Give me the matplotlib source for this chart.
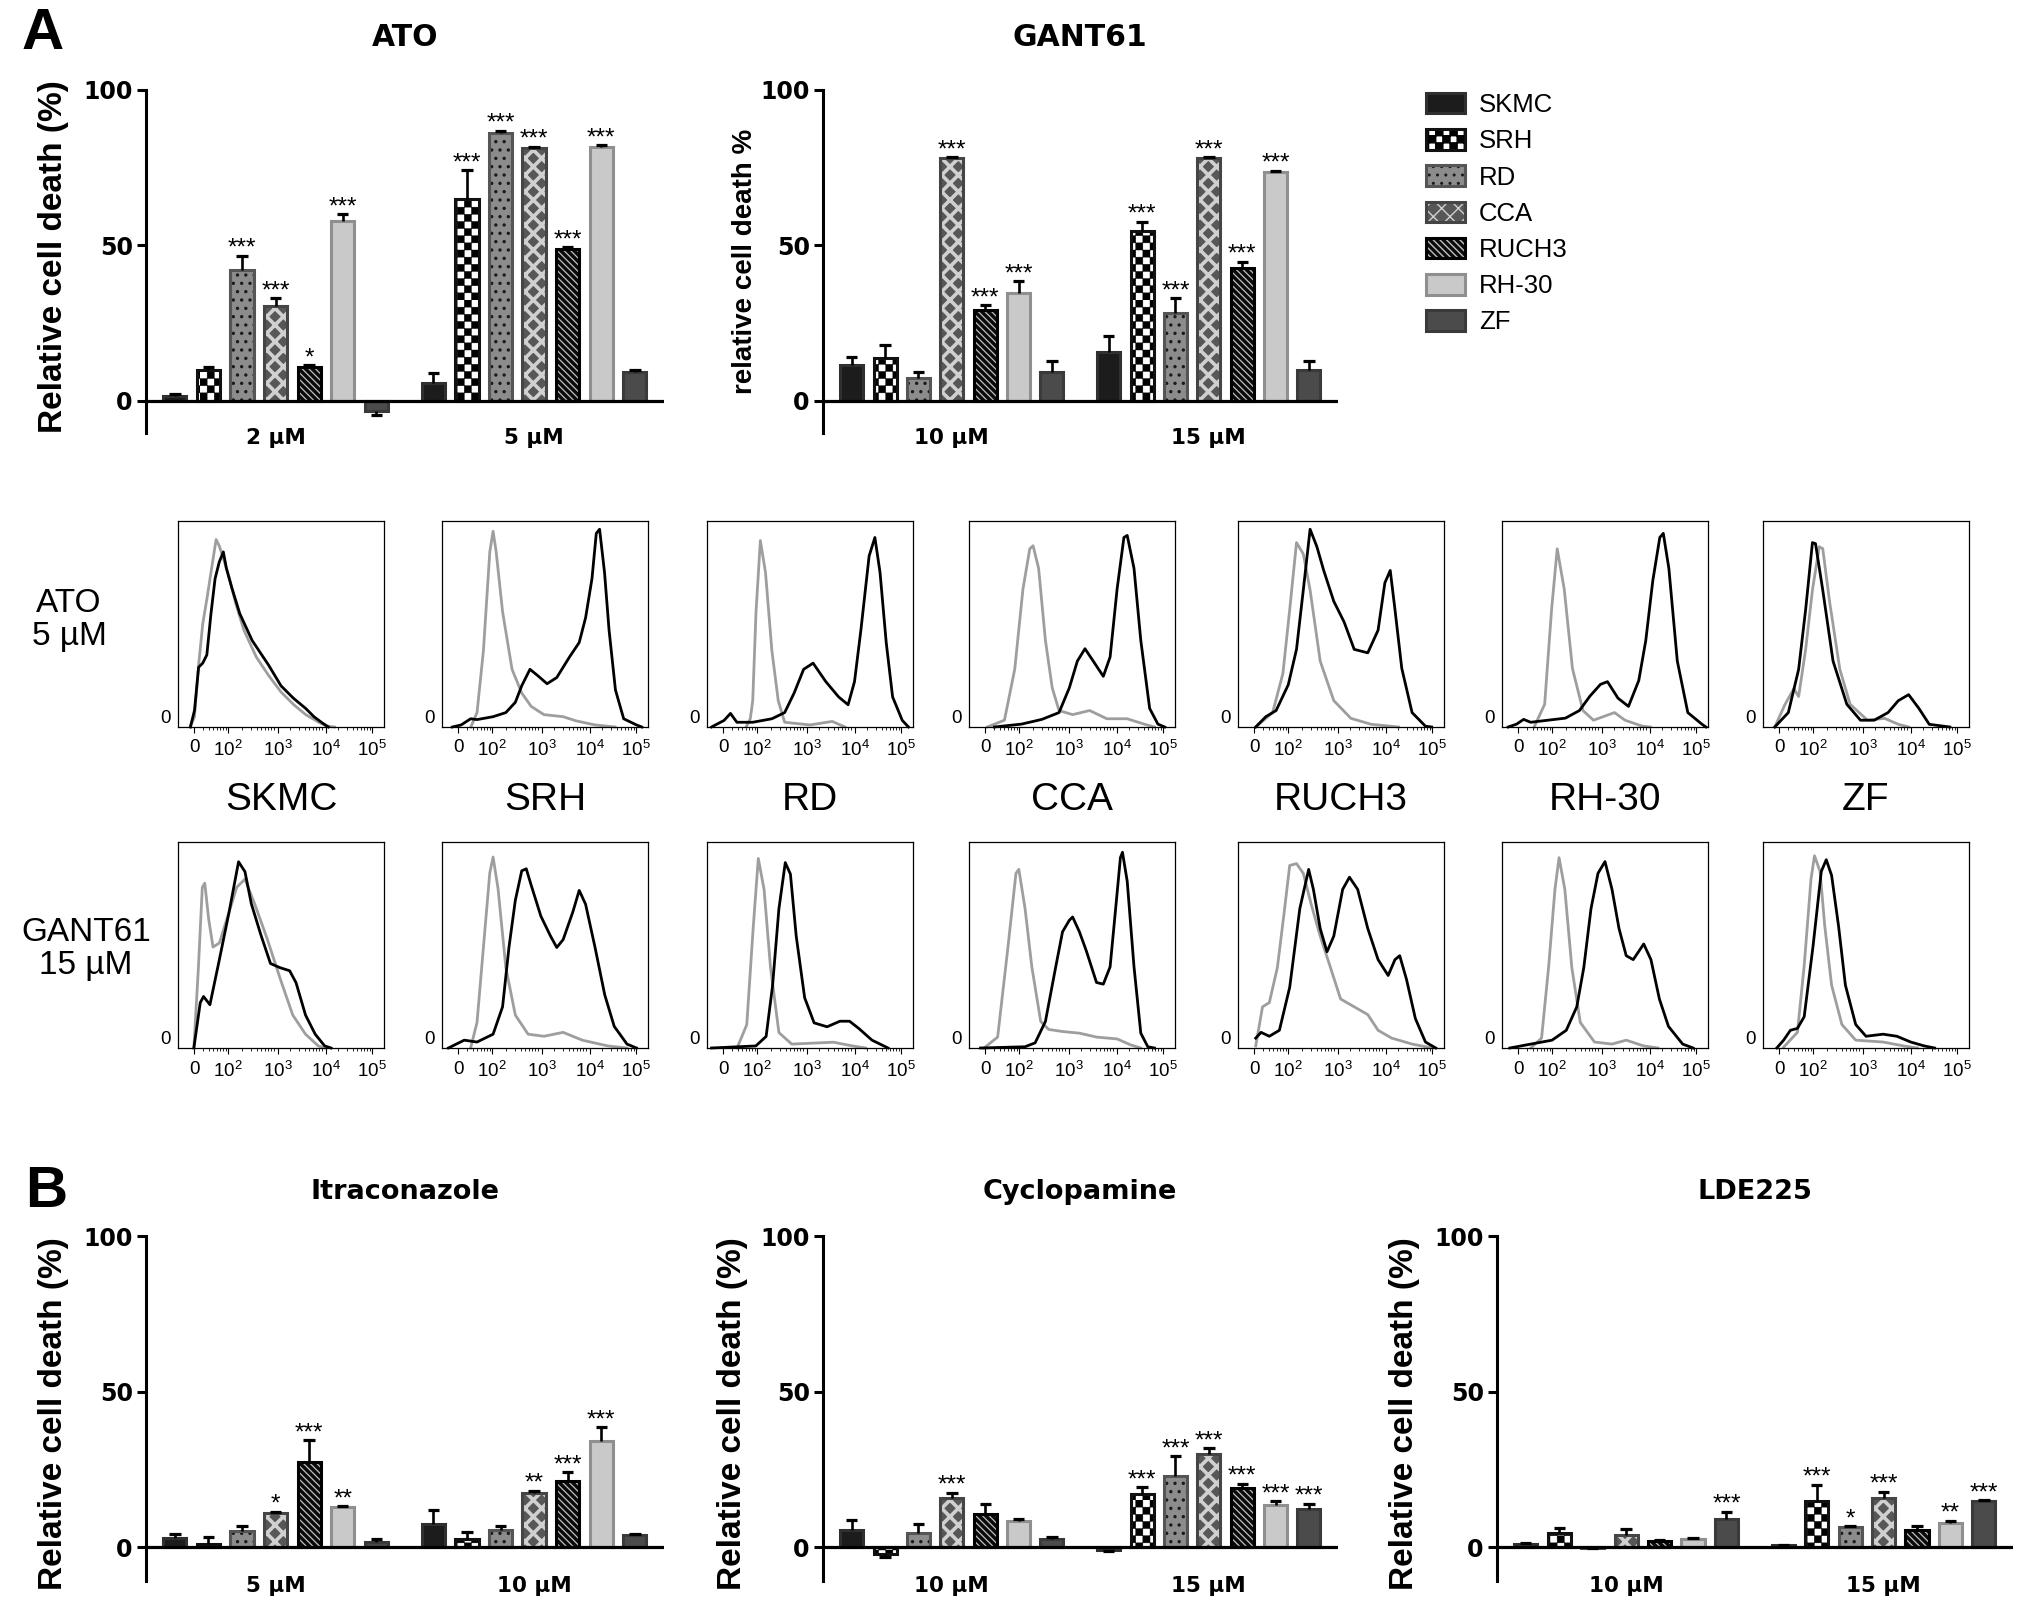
import numpy as np
import matplotlib
matplotlib.use('Agg')
import matplotlib.pyplot as plt
import matplotlib.hatch as mhatch
from matplotlib.path import Path
from matplotlib.patches import Patch
from matplotlib.legend_handler import HandlerTuple
from matplotlib import font_manager

# ---------------- data ----------------
cell_lines = ['SKMC', 'SRH', 'RD', 'CCA', 'RUCH3', 'RH-30', 'ZF']

ato_conc = ['2 µM', '5 µM']
ato_mean = [[1.5, 10.1, 42.2, 30.4, 11.0, 57.8, -3.3],
            [5.8, 64.8, 86.1, 81.4, 48.8, 81.7, 9.4]]
ato_sem = [[0.8, 0.9, 4.5, 2.6, 0.5, 2.2, 1.3],
           [3.3, 9.4, 0.8, 0.4, 0.7, 0.6, 0.4]]
ato_sig = [['', '', '***', '***', '*', '***', ''],
           ['', '***', '***', '***', '***', '***', '']]

gant_conc = ['10 µM', '15 µM']
gant_mean = [[11.5, 13.7, 7.3, 78.1, 29.1, 34.7, 9.2],
             [15.6, 54.5, 28.4, 78.1, 42.6, 73.7, 10.0]]
gant_sem = [[2.7, 4.3, 1.9, 0.3, 1.7, 3.8, 3.7],
            [5.2, 3.2, 4.7, 0.3, 2.2, 0.4, 2.9]]
gant_sig = [['', '', '', '***', '***', '***', ''],
            ['', '***', '***', '***', '***', '***', '']]

itra_conc = ['5 µM', '10 µM']
itra_mean = [[2.8, 1.1, 5.2, 11.1, 27.5, 12.9, 1.7],
             [7.5, 2.5, 5.4, 17.3, 21.4, 34.2, 3.8]]
itra_sem = [[1.5, 2.1, 1.5, 0.3, 6.9, 0.3, 0.8],
            [4.4, 2.4, 1.3, 0.8, 2.6, 4.3, 0.5]]
itra_sig = [['', '', '', '*', '***', '**', ''],
            ['', '', '', '**', '***', '***', '']]

cyclo_conc = ['10 µM', '15 µM']
cyclo_mean = [[5.4, -2.1, 4.5, 15.9, 10.7, 8.3, 2.7],
              [-0.9, 17.2, 22.9, 30.0, 19.1, 13.4, 12.2]]
cyclo_sem = [[3.2, 1.1, 3.0, 1.5, 3.0, 0.8, 0.5],
             [0.3, 2.1, 6.3, 1.7, 1.3, 1.4, 1.7]]
cyclo_sig = [['', '', '', '***', '', '', ''],
             ['', '***', '***', '***', '***', '***', '***']]

lde_conc = ['10 µM', '15 µM']
lde_mean = [[1.1, 4.6, -0.2, 3.8, 1.9, 2.7, 8.9],
            [0.6, 14.8, 6.5, 15.9, 5.5, 7.8, 14.8]]
lde_sem = [[0.3, 1.6, 0.1, 1.9, 0.3, 0.3, 2.4],
           [0.2, 5.2, 0.2, 1.9, 1.3, 0.6, 0.3]]
lde_sig = [['', '', '', '', '', '', '***'],
           ['', '***', '*', '***', '', '**', '***']]

# flow histograms: (channel % of axis, % of max)
ato_ctrl = {
    'SKMC': [(6, 0), (8, 5), (10, 30), (12, 50), (14, 62), (16, 75), (18.5, 91), (20, 88), (22, 82), (25, 72),
             (28, 60), (32, 47), (38, 34), (44, 25), (50, 17), (56, 11), (62, 6), (68, 2.5), (72, 0.5), (76, 0)],
    'SRH': [(14, 0), (17, 7), (20.1, 37), (23.2, 85), (24.8, 95), (26.3, 85), (29.4, 56), (34, 28), (38.7, 16.5),
            (43.3, 10), (49.5, 6), (58.8, 5), (65, 3), (74.3, 1), (84, 0)],
    'RD': [(19, 0), (21, 4), (22.2, 12.7), (23.8, 56), (25.9, 90.5), (28.4, 75), (31.5, 37), (34.6, 12.7),
           (37.7, 2.3), (50, 1), (60.8, 2.7), (67, 0)],
    'CCA': [(8.9, 0), (17.2, 3.3), (22.2, 28), (26.2, 67), (29.5, 86.5), (31.1, 88), (33.8, 77), (37.1, 42),
            (40.4, 19), (43.7, 8), (50.3, 6), (58.6, 8), (66.9, 4), (76.8, 4), (85, 1.4), (90, 0)],
    'RUCH3': [(8.6, 0), (16.8, 7), (21.8, 26), (25.1, 57), (28.4, 89.5), (31.7, 84), (35, 66.5), (39.9, 32),
              (46.5, 12.8), (54.8, 4.2), (64.7, 1.3), (77.9, 0)],
    'RH-30': [(15.6, 0), (20.7, 11), (24.1, 57.4), (26.8, 86.5), (30.2, 67), (34.2, 28.4), (39.3, 8), (44.4, 3.3),
              (54.6, 7), (59.7, 3.3), (68.1, 0.4), (72, 0)],
    'ZF': [(5.7, 0), (10.7, 11), (15, 18.6), (17.3, 14.8), (20.7, 37.7), (24, 66.5), (27.3, 87.5), (29, 86.6),
           (32.3, 61), (37.3, 28), (42.3, 11), (50.7, 3.3), (59, 4.2), (65.7, 1.3), (70.7, 0)],
}
ato_treated = {
    'SKMC': [(6, 0), (8, 8), (10, 29), (12, 31), (14, 35), (16, 55), (18, 72), (20, 80), (22, 85), (23.5, 77),
             (26, 68), (30, 55), (36, 42), (44, 30), (50, 20), (56, 14), (62, 9), (66, 5), (70, 2), (73, 0)],
    'SRH': [(5, 0), (9.3, 1), (13.9, 4), (17, 3.6), (24.8, 5), (31, 7), (35.6, 12), (38.7, 20), (42.7, 28),
            (46.4, 25), (51, 21), (55.7, 24), (61.9, 34), (66.6, 41), (69.7, 53), (72.8, 72), (74.9, 94),
            (76.5, 96), (78.9, 75), (81.1, 47), (84.2, 18), (88.2, 4), (94.4, 1), (97, 0)],
    'RD': [(2.2, 0), (8.3, 3.2), (11.4, 6.6), (14.5, 2.3), (22.2, 2.3), (31.5, 4), (37.7, 7), (42.3, 16.5),
           (46.9, 28), (51.5, 31), (57.7, 22), (63.9, 14.6), (68.5, 10.8), (71.6, 22), (74.7, 47), (78.7, 83),
           (81.5, 92), (84, 75), (87, 41), (90.1, 14.6), (94.8, 3.2), (97.8, 0)],
    'CCA': [(12.3, 0), (25.5, 1.4), (35.4, 3.7), (43.7, 7), (48.7, 19), (52.6, 32), (56.3, 38), (60.3, 32),
            (65.2, 24.6), (68.5, 34), (71.9, 67), (75.2, 92), (76.8, 93), (80.1, 77), (83.4, 42), (87.7, 9),
            (91.7, 1.4), (95, 0)],
    'RUCH3': [(8.6, 0), (13.5, 5), (18.5, 8), (24.4, 20.5), (28.4, 37.7), (31.7, 66.5), (35, 96), (38.3, 87.5),
              (41.6, 76), (46.5, 61), (51.5, 51), (56.4, 37.7), (63, 36), (68, 47), (71.3, 70), (73.9, 76),
              (76.2, 57), (79.5, 28.5), (84.5, 7), (91, 0.4), (94, 0)],
    'RH-30': [(3, 0), (7.1, 1.4), (10.5, 3.7), (13.9, 2.3), (30.8, 4.3), (37.6, 8), (42.7, 15), (47.8, 20.7),
              (51.2, 22), (56.3, 14), (61.4, 10), (66.4, 22.6), (69.8, 42), (73.2, 71), (76.6, 92), (78.3, 94),
              (81, 77), (85.1, 32), (90.2, 7), (97, 1.4), (99, 0)],
    'ZF': [(5.7, 0), (12.3, 7), (17.3, 28), (20.7, 57), (24, 89.5), (25.5, 89), (29, 66.5), (34, 32), (40.7, 11),
           (47.3, 3.3), (54, 3.3), (60.7, 7), (65.7, 12.8), (70.7, 15.7), (75.7, 9), (80.7, 1.3), (90.7, 0)],
}
gant_ctrl = {
    'SKMC': [(7.7, 0), (9.9, 39), (11.8, 78), (13, 80), (14.9, 62.5), (17, 49), (20.1, 51), (24.8, 66),
             (28.5, 78), (32.5, 82), (37.2, 70), (43.3, 53), (49.5, 34), (55.7, 16), (61.9, 6.7), (68.1, 1),
             (71.2, 0)],
    'SRH': [(13.9, 0), (17, 12.4), (20.1, 48.8), (23.2, 85), (24.8, 92.7), (27.2, 77.4), (31, 39), (35.6, 16),
            (41.8, 6.7), (49.5, 5.7), (58.8, 7.6), (68.1, 3.8), (80.5, 1), (89.8, 0)],
    'RD': [(14.6, 0), (19.3, 11.3), (22.4, 58), (24.9, 92), (27.7, 77), (30.8, 39.4), (34.9, 7.5), (41.1, 1.9),
           (61.4, 2.8), (70.7, 1), (77, 0)],
    'CCA': [(7.3, 0), (13.9, 5.3), (18.9, 48.9), (22.8, 84.8), (24.2, 86.7), (27.2, 67.8), (30.5, 39.4),
            (34.8, 12.9), (38.7, 9), (45.4, 8), (53.6, 7.2), (61.9, 5.3), (71.9, 4.4), (78.5, 1.5), (83.4, 0)],
    'RUCH3': [(8.6, 1), (11.9, 20), (15.2, 22), (19.1, 39), (22.4, 65.7), (25.1, 88.6), (28.4, 89.5),
              (31.7, 84.8), (35.6, 69.5), (39.9, 54.3), (44.9, 39), (49.8, 23.8), (56.4, 20), (63, 16.2),
              (68, 8.6), (74.6, 4.8), (84.5, 1.9), (94.4, 0)],
    'RH-30': [(14, 0), (19.2, 4.8), (22.6, 39), (25.7, 77), (27.7, 92.4), (30.5, 77), (33.9, 39), (38, 12.4),
              (44.9, 2.9), (53.4, 1.9), (60.3, 3.8), (68.8, 1), (75.7, 0)],
    'ZF': [(10, 0.4), (16.7, 7.6), (20, 40), (23.3, 82), (25, 93.3), (27.7, 85.7), (30, 59), (33.3, 30.5),
           (38.3, 11.4), (45, 3.8), (58.3, 2.9), (68.3, 1), (75, 0)],
}
gant_treated = {
    'SKMC': [(7.7, 0), (10.8, 22), (12.4, 25), (15.5, 21), (20.1, 43), (24.8, 66), (29.4, 90.4), (32.5, 85.6),
             (35.6, 70), (40.2, 55), (44.9, 41), (49.5, 39), (54.2, 37.5), (57.3, 31.7), (61.9, 16), (66.6, 6.7),
             (71.2, 1), (74.3, 0)],
    'SRH': [(3.1, 0), (10.8, 3.8), (17, 2.9), (24.8, 6.7), (29.4, 20), (32.5, 48.8), (35.6, 71.7), (38.7, 86),
            (40.9, 87), (43.3, 79), (48, 64), (52.6, 54.5), (55.7, 48.8), (58.8, 52.6), (63.5, 66), (66.6, 76.5),
            (69.7, 69.8), (74.3, 48.8), (79, 25.8), (83.6, 10.5), (89.8, 1.9), (94.4, 0)],
    'RD': [(2.2, 0), (23.7, 1), (28.7, 5.6), (31.8, 30), (34.9, 67.5), (38, 90), (40.5, 84.4), (43.3, 54.4),
           (47.4, 24.4), (52, 12.2), (58.3, 10.3), (64.5, 13), (69.2, 13), (73.8, 9.4), (80.1, 3.8), (87.9, 0)],
    'CCA': [(5.6, 0), (27.2, 0.6), (32.1, 2.5), (37.1, 12.9), (42.1, 39.4), (45.4, 56.4), (48.7, 62),
            (50.3, 63.6), (53.6, 56.4), (57, 47), (61.9, 31.8), (65.2, 31), (68.5, 39.4), (71.2, 67.8),
            (73.5, 92.4), (74.5, 95), (76.8, 81), (80.1, 39.4), (83.4, 7.2), (86.8, 0.6), (90, 0)],
    'RUCH3': [(8.6, 4.8), (11.2, 7.6), (15.2, 5.7), (20.1, 8.6), (25.1, 29.5), (30, 67.6), (34.3, 86.7),
              (36.6, 77), (39.9, 58), (43.2, 46.7), (46.5, 54.3), (50.8, 77), (54.1, 82.9), (58.1, 77), (63, 58),
              (68, 42.9), (72.9, 35.2), (76.2, 42.9), (78.5, 44.8), (81.8, 33.3), (86.1, 14.3), (91, 2.9),
              (96, 0)],
    'RH-30': [(3.8, 0), (14, 1.9), (24.3, 3.8), (31.2, 8.6), (36.3, 20), (39.7, 39), (43.2, 67.6), (46.6, 84.8),
              (50, 90.5), (53.4, 77), (56.8, 58), (60.3, 44.8), (63.7, 42.9), (68.8, 50.5), (72.3, 42.9),
              (76.4, 23.8), (80.8, 10.5), (87.7, 1.9), (92.8, 0)],
    'ZF': [(6.7, 0), (10, 3.8), (13.3, 8.6), (16.7, 9.5), (20, 15.2), (24.3, 49.5), (28.3, 85.7), (30.7, 91.4),
           (33.3, 83.8), (36.7, 59), (40, 30.5), (45, 11.4), (50, 5.7), (58.3, 6.7), (65, 5.7), (71.7, 2.9),
           (78.3, 1), (83.3, 0)],
}
hist_tick_pos = [8, 24.2, 48.5, 71.8, 94]
hist_tick_lab = ['0', r'$\mathregular{10^{2}}$', r'$\mathregular{10^{3}}$',
                 r'$\mathregular{10^{4}}$', r'$\mathregular{10^{5}}$']

# ---------------- styles ----------------
bar_face = ['#1c1c1c', '#ffffff', '#8c8c8c', '#575757', '#0a0a0a', '#c9c9c9', '#4b4b4b']
bar_hatch = [None, '*', '..', 'xx', '\\' * 5, None, None]
hatch_col = ['#1c1c1c', '#000000', '#1a1a1a', '#d0d0d0', '#c0c0c0', '#c9c9c9', '#4b4b4b']
hatch_lw = [1.0, 0.3, 1.2, 2.6, 0.9, 1.0, 1.0]
bar_edge = ['#303030', '#111111', '#555555', '#454545', '#000000', '#8f8f8f', '#3a3a3a']


# checkerboard hatch, takes the place of the '*' stars pattern
class CheckerHatch(mhatch.HatchPatternBase):
    def __init__(self, hatch, density):
        self.n = 14 if '*' in hatch else 0
        self.num_vertices = (self.n * self.n // 2) * 5

    def set_vertices_and_codes(self, vertices, codes):
        s = 1.0 / self.n
        k = 0
        for i in range(self.n):
            for j in range(self.n):
                if (i + j) % 2 == 0:
                    x0, y0 = i * s, j * s
                    vertices[k:k + 5] = [(x0, y0), (x0 + s, y0), (x0 + s, y0 + s), (x0, y0 + s), (x0, y0)]
                    codes[k:k + 5] = [Path.MOVETO, Path.LINETO, Path.LINETO, Path.LINETO, Path.CLOSEPOLY]
                    k += 5


mhatch._hatch_types = [t for t in mhatch._hatch_types if t is not mhatch.Stars] + [CheckerHatch]

names = {f.name for f in font_manager.fontManager.ttflist}
NARROW = 'Liberation Sans Narrow' if 'Liberation Sans Narrow' in names else 'Liberation Sans'
ARIAL = 'Liberation Sans'
WIDE = 'DejaVu Sans'

W, H = 2031, 1622
fig = plt.figure(figsize=(W / 100, H / 100), dpi=100)


def px_axes(l, t, r, b):
    return fig.add_axes([l / W, 1 - b / H, (r - l) / W, (b - t) / H])


def ftext(x, y, s, **kw):
    return fig.text(x / W, 1 - y / H, s, **kw)


def set_hlw(container, lw):
    for p in container:
        if hasattr(p, 'set_hatch_linewidth'):
            p.set_hatch_linewidth(lw)


def bar_panel(ax, conc, means, sems, sigs, ybottom):
    ax.set_xlim(0, 15.43)
    ax.set_ylim(ybottom, 100)
    for g in range(2):
        xs = 0.86 + 7.7 * g + np.arange(len(cell_lines))
        for i, x in enumerate(xs):
            m, e, s = means[g][i], sems[g][i], sigs[g][i]
            b = ax.bar(x, m, width=0.69, color=bar_face[i], hatch=bar_hatch[i],
                       edgecolor=hatch_col[i], linewidth=0, zorder=2)
            set_hlw(b, hatch_lw[i])
            ax.bar(x, m, width=0.69, fill=False, edgecolor=bar_edge[i], linewidth=2.2, zorder=3)
            tip = m + e if m >= 0 else m - e
            ax.vlines(x, m, tip, color='black', lw=1.9, zorder=4)
            ax.hlines(tip, x - 0.17, x + 0.17, color='black', lw=2.3, zorder=4)
            if s:
                ax.text(x, tip + 0.3, s, ha='center', va='baseline', fontsize=17.5,
                        family=ARIAL, zorder=5)
        ax.text(xs.mean(), ybottom - 1.6, conc[g], ha='center', va='center', fontsize=15.5,
                family=WIDE, weight='bold', clip_on=False)
    ax.axhline(0, color='black', lw=2.3, zorder=3.5)
    for sp in ['top', 'right', 'bottom']:
        ax.spines[sp].set_visible(False)
    ax.spines['left'].set_linewidth(2.2)
    ax.spines['left'].set_bounds(ybottom, 100)
    ax.set_xticks([])
    ax.set_yticks([0, 50, 100])
    ax.tick_params(axis='y', length=6.5, width=2.2, labelsize=17, pad=3)
    for t in ax.get_yticklabels():
        t.set_family(WIDE)
        t.set_weight('bold')
    ax.patch.set_alpha(0)


def hist_panel(ax, ctrl, treated):
    x, y = zip(*ctrl)
    ax.plot(x, y, color='#9e9e9e', lw=2.0, clip_on=False, zorder=2)
    x, y = zip(*treated)
    ax.plot(x, y, color='black', lw=2.0, clip_on=False, zorder=3)
    ax.set_xlim(0, 100)
    ax.set_ylim(0, 100)
    for sp in ax.spines.values():
        sp.set_linewidth(0.9)
    ax.set_xticks(hist_tick_pos)
    ax.set_xticklabels(hist_tick_lab, family=NARROW, fontsize=13.5)
    dec = [24.2 + (np.log10(m * 10 ** k) - 2) * 23.3 for k in range(1, 5) for m in range(2, 10)]
    ax.set_xticks([d for d in dec if 0 < d < 100], minor=True)
    ax.tick_params(axis='x', which='major', length=4, width=0.8, pad=5)
    ax.tick_params(axis='x', which='minor', length=2.5, width=0.6)
    ax.set_yticks([0])
    ax.set_yticklabels(['0'], family=NARROW, fontsize=13.5, va='bottom')
    ax.tick_params(axis='y', length=0, pad=5)


# ---------------- panel A: bar charts ----------------
ax_ato = px_axes(146, 90, 664, 433)
bar_panel(ax_ato, ato_conc, ato_mean, ato_sem, ato_sig, -10.3)
ax_gant = px_axes(823, 90, 1338, 433)
bar_panel(ax_gant, gant_conc, gant_mean, gant_sem, gant_sig, -10.3)

ftext(43, 34, 'A', fontsize=42, weight='bold', family=ARIAL, ha='center', va='center')
ftext(405, 38, 'ATO', fontsize=21.5, weight='bold', family=WIDE, ha='center', va='center')
ftext(1080, 38, 'GANT61', fontsize=21.5, weight='bold', family=WIDE, ha='center', va='center')
ftext(54, 257, 'Relative cell death (%)', rotation=90, fontsize=24, weight='bold', family=ARIAL,
      ha='center', va='center')
ftext(745, 261, 'relative cell death %', rotation=90, fontsize=20, weight='bold', family=ARIAL,
      ha='center', va='center')

handles = [(Patch(facecolor=bar_face[i], hatch=bar_hatch[i], edgecolor=hatch_col[i], linewidth=0),
            Patch(facecolor='none', edgecolor=bar_edge[i], linewidth=2.2)) for i in range(len(cell_lines))]
leg = fig.legend(handles, cell_lines, loc='upper left', bbox_to_anchor=(1426 / W, 1 - 93 / H),
                 frameon=False, prop={'family': ARIAL, 'size': 18.5}, borderpad=0, borderaxespad=0,
                 handler_map={tuple: HandlerTuple(ndivide=1, pad=0)},
                 handlelength=1.5, handleheight=0.85, labelspacing=0.47, handletextpad=0.55)

# ---------------- flow cytometry histograms ----------------
hist_left = [178, 442, 707, 969, 1238, 1502, 1763]
for i, name in enumerate(cell_lines):
    l = hist_left[i]
    ax1 = px_axes(l, 521, l + 206, 727)
    hist_panel(ax1, ato_ctrl[name], ato_treated[name])
    ax2 = px_axes(l, 842, l + 206, 1048)
    hist_panel(ax2, gant_ctrl[name], gant_treated[name])
    ftext(l + 103, 800, name, fontsize=28, family=ARIAL, ha='center', va='center')

ftext(69, 620, 'ATO\n5 µM', fontsize=24, family=ARIAL, ha='center', va='center',
      multialignment='center', linespacing=1.1)
ftext(86, 949, 'GANT61\n15 µM', fontsize=24, family=ARIAL, ha='center', va='center',
      multialignment='center', linespacing=1.1)

# ---------------- panel B: bar charts ----------------
ax_itra = px_axes(146, 1236, 664, 1581)
bar_panel(ax_itra, itra_conc, itra_mean, itra_sem, itra_sig, -10.9)
ax_cyc = px_axes(823, 1236, 1338, 1581)
bar_panel(ax_cyc, cyclo_conc, cyclo_mean, cyclo_sem, cyclo_sig, -10.9)
ax_lde = px_axes(1497, 1236, 2013, 1581)
bar_panel(ax_lde, lde_conc, lde_mean, lde_sem, lde_sig, -10.9)

ftext(46, 1192, 'B', fontsize=42, weight='bold', family=ARIAL, ha='center', va='center')
ftext(405, 1192, 'Itraconazole', fontsize=19.5, weight='bold', family=WIDE, ha='center', va='center')
ftext(1080, 1192, 'Cyclopamine', fontsize=19.5, weight='bold', family=WIDE, ha='center', va='center')
ftext(1755, 1192, 'LDE225', fontsize=19.5, weight='bold', family=WIDE, ha='center', va='center')
for x in [54, 733, 1405]:
    ftext(x, 1414, 'Relative cell death (%)', rotation=90, fontsize=24, weight='bold', family=ARIAL,
          ha='center', va='center')

fig.savefig('out.png', dpi=100, facecolor='white')
